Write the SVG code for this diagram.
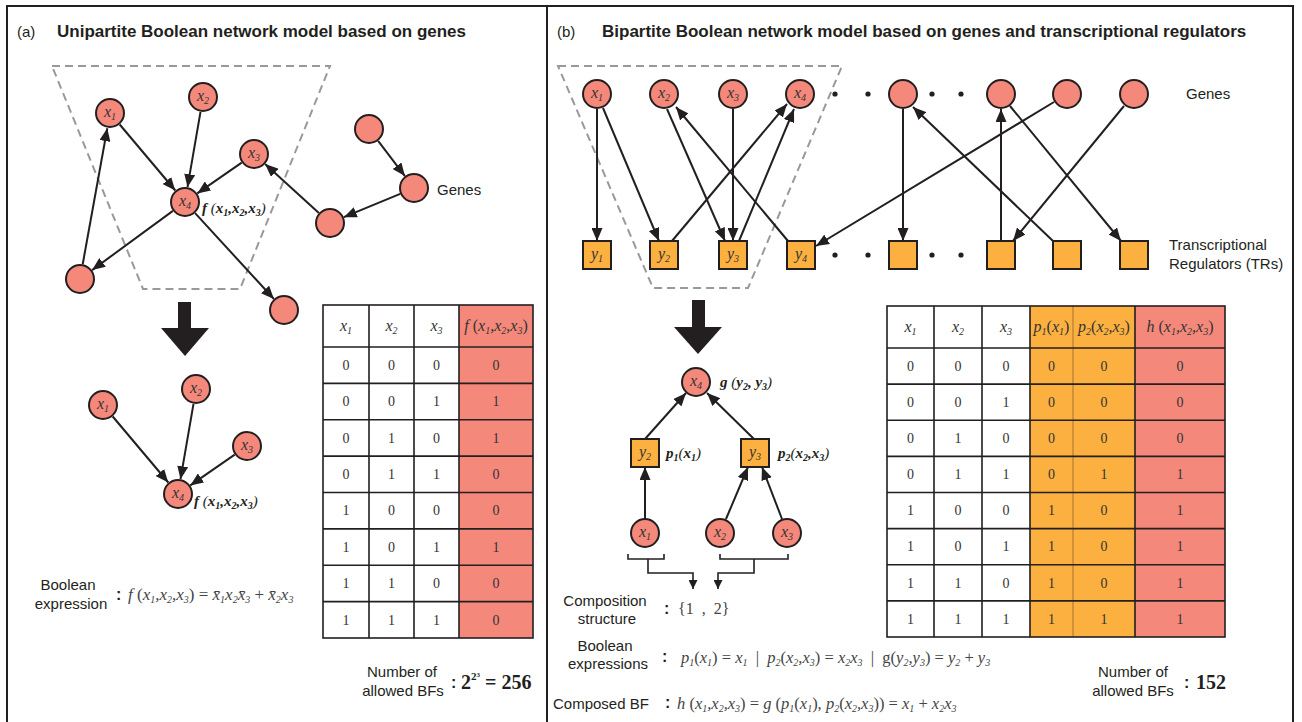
<svg xmlns="http://www.w3.org/2000/svg" width="1302" height="722" viewBox="0 0 1302 722">
<style>
.gene{fill:#f4897b;stroke:#231f20;stroke-width:2}
.tr{fill:#fbb040;stroke:#231f20;stroke-width:2}
.edge{stroke:#231f20;stroke-width:2;fill:none;marker-end:url(#ah)}
.edge2{stroke:#231f20;stroke-width:1.6;fill:none;marker-end:url(#ah2)}
.brk{stroke:#231f20;stroke-width:1.6;fill:none}
.dash{stroke:#999;stroke-width:2;stroke-dasharray:8 5;fill:none}
.lbl{font-family:"Liberation Serif",serif;font-style:italic;font-size:16px;fill:#333;text-anchor:middle}
.sub{font-size:10px}
.fn{font-family:"Liberation Serif",serif;font-style:italic;font-weight:bold;font-size:15px;fill:#231f20}
.sans{font-family:"Liberation Sans",Arial,sans-serif;font-size:15px;fill:#231f20}
.title{font-family:"Liberation Sans",Arial,sans-serif;font-size:17px;font-weight:bold;fill:#231f20}
.expr{font-family:"Liberation Serif",serif;font-style:italic;font-size:17px;fill:#444}
.expr2{font-family:"Liberation Serif",serif;font-style:italic;font-size:16.5px;fill:#444}
.up{font-family:"Liberation Serif",serif;font-size:16px;fill:#444}
.colon{font-family:"Liberation Sans",Arial,sans-serif;font-size:16px;font-weight:bold;fill:#231f20}
.cell{font-family:"Liberation Serif",serif;font-size:14px;fill:#333;text-anchor:middle}
.hdr{font-family:"Liberation Serif",serif;font-style:italic;font-size:16px;fill:#333;text-anchor:middle}
.grid{stroke:#231f20;stroke-width:1.6;fill:none}
.num{font-family:"Liberation Serif",serif;font-weight:bold;font-size:20px;fill:#231f20}
.dot{fill:#231f20}
</style>
<defs>
<marker id="ah" markerUnits="userSpaceOnUse" markerWidth="13" markerHeight="11" refX="13" refY="5.5" orient="auto">
<path d="M0,0 L13,5.5 L0,11 z" fill="#231f20"/>
</marker>
<marker id="ah2" markerUnits="userSpaceOnUse" markerWidth="9" markerHeight="9" refX="9" refY="4.5" orient="auto">
<path d="M0,0 L9,4.5 L0,9 z" fill="#231f20"/>
</marker>
</defs>
<rect width="1302" height="722" fill="#fff"/>
<g id="frame" stroke="#231f20" stroke-width="2" fill="none">
<path d="M7,722 V6 H1293 V722"/>
<path d="M547,6 V722"/>
</g>
<!-- ===== Panel (a) ===== -->
<g id="panel-a-title">
<text class="sans" x="17" y="37" font-size="16">(a)</text>
<text class="title" x="57" y="37">Unipartite Boolean network model based on genes</text>
</g>
<path class="dash" d="M52,66 H330 L240,289 H143 Z"/>
<g id="a-connectors">
<line class="edge" x1="119.7" y1="124.5" x2="175.3" y2="190.5"/>
<line class="edge" x1="200.5" y1="111.8" x2="187.5" y2="187.2"/>
<line class="edge" x1="241.7" y1="162.6" x2="197.3" y2="193.4"/>
<line class="edge" x1="172.9" y1="210.9" x2="92.1" y2="270.1"/>
<line class="edge" x1="82.7" y1="264.2" x2="107.3" y2="128.2"/>
<line class="edge" x1="195.1" y1="213.1" x2="273.9" y2="299"/>
<line class="edge" x1="318.9" y1="212.9" x2="265.1" y2="164.1"/>
<line class="edge" x1="378.1" y1="140.9" x2="404.9" y2="176.1"/>
<line class="edge" x1="400.2" y1="193.8" x2="343.8" y2="217.2"/>
</g>
<g id="a-x1"><circle class="gene" cx="110" cy="113" r="14"/><text class="lbl" x="110" y="117">x<tspan class="sub" dy="3">1</tspan></text></g>
<g id="a-x2"><circle class="gene" cx="203" cy="97" r="14"/><text class="lbl" x="203" y="101">x<tspan class="sub" dy="3">2</tspan></text></g>
<g id="a-x3"><circle class="gene" cx="254" cy="154" r="14"/><text class="lbl" x="254" y="158">x<tspan class="sub" dy="3">3</tspan></text></g>
<g id="a-x4"><circle class="gene" cx="185" cy="202" r="14"/><text class="lbl" x="185" y="206">x<tspan class="sub" dy="3">4</tspan></text>
<text class="fn" x="202" y="213">f <tspan font-weight="normal">(</tspan>x<tspan class="sub" dy="3">1</tspan><tspan dy="-3">,x</tspan><tspan class="sub" dy="3">2</tspan><tspan dy="-3">,x</tspan><tspan class="sub" dy="3">3</tspan><tspan dy="-3" font-weight="normal">)</tspan></text></g>
<g id="a-g5"><circle class="gene" cx="369" cy="129" r="14"/></g>
<g id="a-g6"><circle class="gene" cx="414" cy="188" r="14"/><text class="sans" x="437" y="195">Genes</text></g>
<g id="a-g7"><circle class="gene" cx="330" cy="223" r="14"/></g>
<g id="a-g8"><circle class="gene" cx="80" cy="279" r="14"/></g>
<g id="a-g9"><circle class="gene" cx="284" cy="310" r="14"/></g>
<g id="a-bigarrow"><rect x="178" y="302" width="13" height="27" fill="#231f20"/><path d="M161,328 H209 L185,356 Z" fill="#231f20"/></g>
<g id="a2-connectors">
<line class="edge" x1="112.7" y1="416.5" x2="168.3" y2="482.5"/>
<line class="edge" x1="193.5" y1="403.8" x2="180.5" y2="479.2"/>
<line class="edge" x1="234.7" y1="454.6" x2="190.3" y2="485.4"/>
</g>
<g id="a2-x1"><circle class="gene" cx="103" cy="405" r="14"/><text class="lbl" x="103" y="409">x<tspan class="sub" dy="3">1</tspan></text></g>
<g id="a2-x2"><circle class="gene" cx="196" cy="389" r="14"/><text class="lbl" x="196" y="393">x<tspan class="sub" dy="3">2</tspan></text></g>
<g id="a2-x3"><circle class="gene" cx="247" cy="446" r="14"/><text class="lbl" x="247" y="450">x<tspan class="sub" dy="3">3</tspan></text></g>
<g id="a2-x4"><circle class="gene" cx="178" cy="494" r="14"/><text class="lbl" x="178" y="498">x<tspan class="sub" dy="3">4</tspan></text>
<text class="fn" x="194" y="506">f <tspan font-weight="normal">(</tspan>x<tspan class="sub" dy="3">1</tspan><tspan dy="-3">,x</tspan><tspan class="sub" dy="3">2</tspan><tspan dy="-3">,x</tspan><tspan class="sub" dy="3">3</tspan><tspan dy="-3" font-weight="normal">)</tspan></text></g>
<g id="a-expression">
<text class="sans" x="68" y="590" text-anchor="middle">Boolean</text>
<text class="sans" x="71" y="609" text-anchor="middle">expression</text>
<text class="colon" x="116" y="600">:</text>
<text class="expr" x="128" y="600">f <tspan font-style="normal">(</tspan>x<tspan class="sub" dy="3">1</tspan><tspan dy="-3">,x</tspan><tspan class="sub" dy="3">2</tspan><tspan dy="-3">,x</tspan><tspan class="sub" dy="3">3</tspan><tspan dy="-3" font-style="normal">) = </tspan>x̄<tspan class="sub" dy="3">1</tspan><tspan dy="-3">x</tspan><tspan class="sub" dy="3">2</tspan><tspan dy="-3">x̄</tspan><tspan class="sub" dy="3">3</tspan><tspan dy="-3" font-style="normal"> + </tspan>x̄<tspan class="sub" dy="3">2</tspan><tspan dy="-3">x</tspan><tspan class="sub" dy="3">3</tspan></text>
</g>
<g id="a-table">
<rect x="459" y="305" width="74" height="333" fill="#f4897b"/>
<rect class="grid" x="323" y="305" width="210" height="333"/>
<path class="grid" d="M369,305V638M414,305V638M459,305V638M323,347H533M323,383.4H533M323,419.8H533M323,456.1H533M323,492.5H533M323,528.9H533M323,565.3H533M323,601.6H533"/>
<text class="hdr" x="346" y="331">x<tspan class="sub" dy="3">1</tspan></text>
<text class="hdr" x="391.5" y="331">x<tspan class="sub" dy="3">2</tspan></text>
<text class="hdr" x="436.5" y="331">x<tspan class="sub" dy="3">3</tspan></text>
<text class="hdr" x="496" y="331">f <tspan font-style="normal">(</tspan>x<tspan class="sub" dy="3">1</tspan><tspan dy="-3">,x</tspan><tspan class="sub" dy="3">2</tspan><tspan dy="-3">,x</tspan><tspan class="sub" dy="3">3</tspan><tspan dy="-3" font-style="normal">)</tspan></text>
<g class="cell">
<text x="346" y="370">0</text><text x="391.5" y="370">0</text><text x="436.5" y="370">0</text><text x="496" y="370">0</text>
<text x="346" y="406">0</text><text x="391.5" y="406">0</text><text x="436.5" y="406">1</text><text x="496" y="406">1</text>
<text x="346" y="443">0</text><text x="391.5" y="443">1</text><text x="436.5" y="443">0</text><text x="496" y="443">1</text>
<text x="346" y="479">0</text><text x="391.5" y="479">1</text><text x="436.5" y="479">1</text><text x="496" y="479">0</text>
<text x="346" y="515">1</text><text x="391.5" y="515">0</text><text x="436.5" y="515">0</text><text x="496" y="515">0</text>
<text x="346" y="552">1</text><text x="391.5" y="552">0</text><text x="436.5" y="552">1</text><text x="496" y="552">1</text>
<text x="346" y="588">1</text><text x="391.5" y="588">1</text><text x="436.5" y="588">0</text><text x="496" y="588">0</text>
<text x="346" y="625">1</text><text x="391.5" y="625">1</text><text x="436.5" y="625">1</text><text x="496" y="625">0</text>
</g>
</g>
<g id="a-count">
<text class="sans" x="402" y="677" text-anchor="middle">Number of</text>
<text class="sans" x="403" y="696" text-anchor="middle">allowed BFs</text>
<text class="colon" x="451" y="688">:</text>
<text class="num" x="461" y="689">2<tspan font-size="11" dy="-9">2</tspan><tspan font-size="7" dy="-3">3</tspan><tspan dy="12"> = 256</tspan></text>
</g>
<!-- ===== Panel (b) ===== -->
<g id="panel-b-title">
<text class="sans" x="557" y="37" font-size="16">(b)</text>
<text class="title" x="602" y="37">Bipartite Boolean network model based on genes and transcriptional regulators</text>
</g>
<path class="dash" d="M558,66 H842 L748,288 H653 Z"/>
<g id="b-connectors">
<line class="edge" x1="597" y1="109" x2="597" y2="241"/>
<line class="edge" x1="603" y1="108" x2="659" y2="241"/>
<line class="edge" x1="667" y1="109" x2="725" y2="241"/>
<line class="edge" x1="733" y1="109" x2="733" y2="241"/>
<line class="edge" x1="672" y1="241" x2="787" y2="104"/>
<line class="edge" x1="739" y1="241" x2="794" y2="109"/>
<line class="edge" x1="788" y1="241" x2="676" y2="107"/>
<line class="edge" x1="1054" y1="102" x2="816" y2="246"/>
<line class="edge" x1="903" y1="109" x2="903" y2="241"/>
<line class="edge" x1="1053" y1="241" x2="913" y2="107"/>
<line class="edge" x1="1001" y1="241" x2="1001" y2="109"/>
<line class="edge" x1="1124" y1="106" x2="1013" y2="241"/>
<line class="edge" x1="1010" y1="106" x2="1121" y2="241"/>
</g>
<g id="b-x1"><circle class="gene" cx="597" cy="94" r="14"/><text class="lbl" x="597" y="98">x<tspan class="sub" dy="3">1</tspan></text></g>
<g id="b-x2"><circle class="gene" cx="664" cy="94" r="14"/><text class="lbl" x="664" y="98">x<tspan class="sub" dy="3">2</tspan></text></g>
<g id="b-x3"><circle class="gene" cx="733" cy="94" r="14"/><text class="lbl" x="733" y="98">x<tspan class="sub" dy="3">3</tspan></text></g>
<g id="b-x4"><circle class="gene" cx="800" cy="94" r="14"/><text class="lbl" x="800" y="98">x<tspan class="sub" dy="3">4</tspan></text></g>
<g id="b-g5"><circle class="gene" cx="903" cy="94" r="14"/></g>
<g id="b-g6"><circle class="gene" cx="1001" cy="94" r="14"/></g>
<g id="b-g7"><circle class="gene" cx="1067" cy="94" r="14"/></g>
<g id="b-g8"><circle class="gene" cx="1134" cy="94" r="14"/></g>
<g id="b-gene-dots">
<circle class="dot" cx="835" cy="94" r="2.6"/><circle class="dot" cx="868" cy="94" r="2.6"/>
<circle class="dot" cx="932" cy="94" r="2.6"/><circle class="dot" cx="961" cy="94" r="2.6"/>
</g>
<text class="sans" x="1186" y="99">Genes</text>
<g id="b-y1"><rect class="tr" x="583" y="241" width="28" height="28"/><text class="lbl" x="597" y="259">y<tspan class="sub" dy="3">1</tspan></text></g>
<g id="b-y2"><rect class="tr" x="650" y="241" width="28" height="28"/><text class="lbl" x="664" y="259">y<tspan class="sub" dy="3">2</tspan></text></g>
<g id="b-y3"><rect class="tr" x="719" y="241" width="28" height="28"/><text class="lbl" x="733" y="259">y<tspan class="sub" dy="3">3</tspan></text></g>
<g id="b-y4"><rect class="tr" x="787" y="241" width="28" height="28"/><text class="lbl" x="801" y="259">y<tspan class="sub" dy="3">4</tspan></text></g>
<g id="b-t5"><rect class="tr" x="889" y="241" width="28" height="28"/></g>
<g id="b-t6"><rect class="tr" x="987" y="241" width="28" height="28"/></g>
<g id="b-t7"><rect class="tr" x="1053" y="241" width="28" height="28"/></g>
<g id="b-t8"><rect class="tr" x="1120" y="241" width="28" height="28"/></g>
<g id="b-tr-dots">
<circle class="dot" cx="835" cy="255" r="2.6"/><circle class="dot" cx="868" cy="255" r="2.6"/>
<circle class="dot" cx="932" cy="255" r="2.6"/><circle class="dot" cx="961" cy="255" r="2.6"/>
</g>
<text class="sans" x="1169" y="250">Transcriptional</text>
<text class="sans" x="1169" y="269">Regulators (TRs)</text>
<g id="b-bigarrow"><rect x="692" y="300" width="13" height="28" fill="#231f20"/><path d="M674,327 H722 L698,354 Z" fill="#231f20"/></g>
<g id="b2-connectors">
<line class="edge" x1="645" y1="439" x2="686" y2="393"/>
<line class="edge" x1="754" y1="439" x2="707" y2="393"/>
<line class="edge" x1="645" y1="518" x2="645" y2="467"/>
<line class="edge" x1="726" y1="519" x2="748" y2="467"/>
<line class="edge" x1="782" y1="519" x2="762" y2="467"/>
<path class="brk" d="M628,554V559H664V554M720,554V559H788V554"/>
<path class="edge2" d="M648,559V573H693V589"/>
<path class="edge2" d="M754,559V573H718V589"/>
</g>
<g id="b2-x4"><circle class="gene" cx="696" cy="382" r="14"/><text class="lbl" x="696" y="386">x<tspan class="sub" dy="3">4</tspan></text>
<text class="fn" x="720" y="387">g <tspan font-weight="normal">(</tspan>y<tspan class="sub" dy="3">2</tspan><tspan dy="-3">, y</tspan><tspan class="sub" dy="3">3</tspan><tspan dy="-3" font-weight="normal">)</tspan></text></g>
<g id="b2-y2"><rect class="tr" x="631" y="439" width="28" height="28"/><text class="lbl" x="645" y="457">y<tspan class="sub" dy="3">2</tspan></text>
<text class="fn" x="666" y="458">p<tspan class="sub" dy="3">1</tspan><tspan dy="-3" font-weight="normal">(</tspan>x<tspan class="sub" dy="3">1</tspan><tspan dy="-3" font-weight="normal">)</tspan></text></g>
<g id="b2-y3"><rect class="tr" x="741" y="439" width="28" height="28"/><text class="lbl" x="755" y="457">y<tspan class="sub" dy="3">3</tspan></text>
<text class="fn" x="778" y="458">p<tspan class="sub" dy="3">2</tspan><tspan dy="-3" font-weight="normal">(</tspan>x<tspan class="sub" dy="3">2</tspan><tspan dy="-3">,x</tspan><tspan class="sub" dy="3">3</tspan><tspan dy="-3" font-weight="normal">)</tspan></text></g>
<g id="b2-x1"><circle class="gene" cx="645" cy="533" r="14"/><text class="lbl" x="645" y="537">x<tspan class="sub" dy="3">1</tspan></text></g>
<g id="b2-x2"><circle class="gene" cx="720" cy="533" r="14"/><text class="lbl" x="720" y="537">x<tspan class="sub" dy="3">2</tspan></text></g>
<g id="b2-x3"><circle class="gene" cx="787" cy="533" r="14"/><text class="lbl" x="787" y="537">x<tspan class="sub" dy="3">3</tspan></text></g>
<g id="b-composition">
<text class="sans" x="605" y="606" text-anchor="middle">Composition</text>
<text class="sans" x="607" y="624" text-anchor="middle">structure</text>
<text class="colon" x="664" y="614">:</text>
<text class="up" x="678" y="614" xml:space="preserve">{1  ,  2}</text>
</g>
<g id="b-expressions">
<text class="sans" x="605" y="651" text-anchor="middle">Boolean</text>
<text class="sans" x="608" y="669" text-anchor="middle">expressions</text>
<text class="colon" x="662" y="662">:</text>
<text class="expr2" x="681" y="663" xml:space="preserve">p<tspan class="sub" dy="3">1</tspan><tspan dy="-3" font-style="normal">(</tspan>x<tspan class="sub" dy="3">1</tspan><tspan dy="-3" font-style="normal">) = </tspan>x<tspan class="sub" dy="3">1</tspan><tspan dy="-3" font-style="normal">  |  </tspan>p<tspan class="sub" dy="3">2</tspan><tspan dy="-3" font-style="normal">(</tspan>x<tspan class="sub" dy="3">2</tspan><tspan dy="-3">,x</tspan><tspan class="sub" dy="3">3</tspan><tspan dy="-3" font-style="normal">) = </tspan>x<tspan class="sub" dy="3">2</tspan><tspan dy="-3">x</tspan><tspan class="sub" dy="3">3</tspan><tspan dy="-3" font-style="normal">  |  g(</tspan>y<tspan class="sub" dy="3">2</tspan><tspan dy="-3">,y</tspan><tspan class="sub" dy="3">3</tspan><tspan dy="-3" font-style="normal">) = </tspan>y<tspan class="sub" dy="3">2</tspan><tspan dy="-3" font-style="normal"> + </tspan>y<tspan class="sub" dy="3">3</tspan></text>
<text class="sans" x="553" y="709">Composed BF</text>
<text class="colon" x="665" y="708">:</text>
<text class="expr2" x="677" y="709">h <tspan font-style="normal">(</tspan>x<tspan class="sub" dy="3">1</tspan><tspan dy="-3">,x</tspan><tspan class="sub" dy="3">2</tspan><tspan dy="-3">,x</tspan><tspan class="sub" dy="3">3</tspan><tspan dy="-3" font-style="normal">) = </tspan>g <tspan font-style="normal">(</tspan>p<tspan class="sub" dy="3">1</tspan><tspan dy="-3" font-style="normal">(</tspan>x<tspan class="sub" dy="3">1</tspan><tspan dy="-3" font-style="normal">), </tspan>p<tspan class="sub" dy="3">2</tspan><tspan dy="-3" font-style="normal">(</tspan>x<tspan class="sub" dy="3">2</tspan><tspan dy="-3">,x</tspan><tspan class="sub" dy="3">3</tspan><tspan dy="-3" font-style="normal">)) = </tspan>x<tspan class="sub" dy="3">1</tspan><tspan dy="-3" font-style="normal"> + </tspan>x<tspan class="sub" dy="3">2</tspan><tspan dy="-3">x</tspan><tspan class="sub" dy="3">3</tspan></text>
</g>
<g id="b-table">
<rect x="1030" y="306" width="105" height="331" fill="#fbb040"/>
<rect x="1135" y="306" width="90" height="331" fill="#f4897b"/>
<rect class="grid" x="887" y="306" width="338" height="331"/>
<path class="grid" d="M934,306V637M982,306V637M1030,306V637M1135,306V637M887,348H1225M887,384.1H1225M887,420.2H1225M887,456.4H1225M887,492.5H1225M887,528.6H1225M887,564.8H1225M887,600.9H1225"/>
<path d="M1073,306V637" stroke="#231f20" stroke-width="0.8" opacity="0.5"/>
<text class="hdr" x="910.5" y="332">x<tspan class="sub" dy="3">1</tspan></text>
<text class="hdr" x="958" y="332">x<tspan class="sub" dy="3">2</tspan></text>
<text class="hdr" x="1006" y="332">x<tspan class="sub" dy="3">3</tspan></text>
<text class="hdr" x="1051.5" y="332">p<tspan class="sub" dy="3">1</tspan><tspan dy="-3" font-style="normal">(</tspan>x<tspan class="sub" dy="3">1</tspan><tspan dy="-3" font-style="normal">)</tspan></text>
<text class="hdr" x="1104" y="332">p<tspan class="sub" dy="3">2</tspan><tspan dy="-3" font-style="normal">(</tspan>x<tspan class="sub" dy="3">2</tspan><tspan dy="-3">,x</tspan><tspan class="sub" dy="3">3</tspan><tspan dy="-3" font-style="normal">)</tspan></text>
<text class="hdr" x="1180" y="332">h <tspan font-style="normal">(</tspan>x<tspan class="sub" dy="3">1</tspan><tspan dy="-3">,x</tspan><tspan class="sub" dy="3">2</tspan><tspan dy="-3">,x</tspan><tspan class="sub" dy="3">3</tspan><tspan dy="-3" font-style="normal">)</tspan></text>
<g class="cell">
<text x="910.5" y="371">0</text><text x="958" y="371">0</text><text x="1006" y="371">0</text><text x="1051.5" y="371">0</text><text x="1104" y="371">0</text><text x="1180" y="371">0</text>
<text x="910.5" y="407">0</text><text x="958" y="407">0</text><text x="1006" y="407">1</text><text x="1051.5" y="407">0</text><text x="1104" y="407">0</text><text x="1180" y="407">0</text>
<text x="910.5" y="443">0</text><text x="958" y="443">1</text><text x="1006" y="443">0</text><text x="1051.5" y="443">0</text><text x="1104" y="443">0</text><text x="1180" y="443">0</text>
<text x="910.5" y="479">0</text><text x="958" y="479">1</text><text x="1006" y="479">1</text><text x="1051.5" y="479">0</text><text x="1104" y="479">1</text><text x="1180" y="479">1</text>
<text x="910.5" y="515">1</text><text x="958" y="515">0</text><text x="1006" y="515">0</text><text x="1051.5" y="515">1</text><text x="1104" y="515">0</text><text x="1180" y="515">1</text>
<text x="910.5" y="551">1</text><text x="958" y="551">0</text><text x="1006" y="551">1</text><text x="1051.5" y="551">1</text><text x="1104" y="551">0</text><text x="1180" y="551">1</text>
<text x="910.5" y="588">1</text><text x="958" y="588">1</text><text x="1006" y="588">0</text><text x="1051.5" y="588">1</text><text x="1104" y="588">0</text><text x="1180" y="588">1</text>
<text x="910.5" y="624">1</text><text x="958" y="624">1</text><text x="1006" y="624">1</text><text x="1051.5" y="624">1</text><text x="1104" y="624">1</text><text x="1180" y="624">1</text>
</g>
</g>
<g id="b-count">
<text class="sans" x="1133" y="677" text-anchor="middle">Number of</text>
<text class="sans" x="1133" y="696" text-anchor="middle">allowed BFs</text>
<text class="colon" x="1184" y="688">:</text>
<text class="num" x="1196" y="689">152</text>
</g>
</svg>
